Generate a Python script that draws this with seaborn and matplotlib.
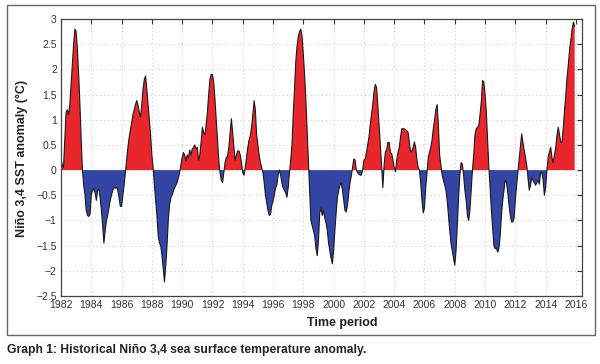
import numpy as np
import pandas as pd
import seaborn as sns
import matplotlib.pyplot as plt
from matplotlib.patches import Rectangle

# --- Datos: anomalía mensual Niño 3,4 (°C), ene 1982 - dic 2015 ---
start_year = 1982
anomaly = [
    0.22, 0.1, 0.05, 0.6, 1.15, 1.2, 1.1, 1.3, 1.7, 2.1, 2.5, 2.8,            # 1982
    2.75, 2.4, 1.9, 1.3, 0.6, 0.0, -0.3, -0.5, -0.8, -0.9, -0.92, -0.88,      # 1983
    -0.5, -0.4, -0.37, -0.45, -0.6, -0.4, -0.38, -0.55, -0.8, -1.1, -1.45, -1.2,  # 1984
    -1.0, -0.9, -0.75, -0.6, -0.5, -0.4, -0.34, -0.36, -0.34, -0.4, -0.55, -0.72,  # 1985
    -0.72, -0.5, -0.3, -0.05, 0.2, 0.45, 0.65, 0.8, 0.95, 1.1, 1.2, 1.3,      # 1986
    1.38, 1.3, 1.15, 1.05, 1.3, 1.6, 1.8, 1.87, 1.6, 1.3, 1.0, 0.7,           # 1987
    0.3, 0.05, -0.3, -0.6, -0.9, -1.3, -1.45, -1.5, -1.7, -1.95, -2.22, -1.9,  # 1988
    -1.5, -1.0, -0.7, -0.55, -0.5, -0.42, -0.35, -0.3, -0.25, -0.15, -0.05, 0.1,  # 1989
    0.25, 0.35, 0.3, 0.18, 0.3, 0.25, 0.4, 0.3, 0.42, 0.45, 0.5, 0.42,        # 1990
    0.45, 0.2, 0.3, 0.55, 0.85, 0.75, 0.7, 0.9, 1.15, 1.5, 1.8, 1.9,          # 1991
    1.9, 1.75, 1.4, 1.0, 0.6, 0.2, -0.05, -0.2, -0.25, -0.05, 0.15, 0.25,     # 1992
    0.28, 0.45, 0.75, 1.02, 0.75, 0.45, 0.2, 0.3, 0.38, 0.38, 0.3, 0.15,      # 1993
    -0.05, -0.1, 0.05, 0.25, 0.45, 0.6, 0.68, 0.85, 1.1, 1.38, 1.2, 0.7,      # 1994
    0.5, 0.3, 0.15, 0.05, -0.05, -0.25, -0.5, -0.65, -0.8, -0.9, -0.88, -0.7,  # 1995
    -0.62, -0.5, -0.35, -0.3, -0.1, 0.0, -0.1, -0.25, -0.35, -0.4, -0.45, -0.54,  # 1996
    -0.35, -0.05, 0.2, 0.5, 1.1, 1.6, 2.15, 2.45, 2.65, 2.75, 2.8, 2.65,      # 1997
    2.3, 1.9, 1.4, 0.8, 0.2, -0.4, -1.0, -1.1, -1.2, -1.3, -1.55, -1.7,       # 1998
    -1.4, -0.85, -0.75, -0.9, -0.8, -0.95, -1.05, -1.2, -1.45, -1.6, -1.75, -1.86,  # 1999
    -1.6, -1.2, -0.85, -0.55, -0.4, -0.3, -0.25, -0.4, -0.6, -0.8, -0.83, -0.7,  # 2000
    -0.45, -0.25, -0.12, 0.05, 0.22, 0.2, 0.0, -0.05, -0.08, -0.1, -0.1, 0.0,  # 2001
    0.2, 0.22, 0.35, 0.5, 0.65, 0.9, 1.1, 1.3, 1.55, 1.7, 1.65, 1.3,          # 2002
    0.9, 0.5, 0.1, -0.35, 0.1, 0.36, 0.4, 0.55, 0.55, 0.35, 0.33, 0.2,        # 2003
    0.05, -0.03, 0.2, 0.35, 0.45, 0.65, 0.82, 0.82, 0.82, 0.8, 0.78, 0.75,    # 2004
    0.55, 0.36, 0.38, 0.45, 0.56, 0.45, 0.2, 0.05, 0.0, -0.25, -0.6, -0.85,   # 2005
    -0.75, -0.35, -0.05, 0.25, 0.36, 0.45, 0.6, 0.82, 1.0, 1.2, 1.3, 0.9,     # 2006
    0.3, 0.1, -0.1, -0.2, -0.3, -0.4, -0.6, -0.9, -1.2, -1.45, -1.6, -1.75,   # 2007
    -1.89, -1.6, -1.1, -0.55, -0.1, 0.15, 0.12, -0.1, -0.4, -0.6, -0.9, -1.0,  # 2008
    -0.8, -0.4, 0.0, 0.3, 0.7, 0.82, 0.85, 0.88, 1.1, 1.35, 1.78, 1.75,       # 2009
    1.5, 1.15, 0.6, 0.05, -0.35, -0.8, -1.15, -1.5, -1.56, -1.55, -1.63, -1.55,  # 2010
    -1.3, -0.9, -0.6, -0.4, -0.2, -0.25, -0.45, -0.7, -0.9, -1.03, -1.03, -0.95,  # 2011
    -0.6, -0.3, -0.05, 0.2, 0.45, 0.72, 0.55, 0.4, 0.25, 0.1, -0.15, -0.4,    # 2012
    -0.3, -0.15, -0.2, -0.25, -0.3, -0.25, -0.2, -0.28, -0.05, -0.05, -0.2, -0.5,  # 2013
    -0.35, 0.0, 0.25, 0.36, 0.45, 0.25, 0.15, 0.3, 0.45, 0.7, 0.85, 0.7,      # 2014
    0.55, 0.56, 0.85, 1.2, 1.5, 1.85, 2.1, 2.4, 2.6, 2.8, 2.94, 2.85,         # 2015
]

x_ticks = list(range(1982, 2017, 2))
y_ticks = [3, 2.5, 2, 1.5, 1, 0.5, 0, -0.5, -1, -1.5, -2, -2.5]
y_tick_labels = ['3', '2.5', '2', '1.5', '1', '0.5', '0',
                 '\u22120.5', '\u22121', '\u22121.5', '\u22122', '\u22122.5']

df = pd.DataFrame({'anomaly': anomaly})
df['year'] = start_year + np.arange(len(df)) / 12

# --- Estilo ---
sns.set_style('white')
plt.rcParams['font.family'] = ['Liberation Sans Narrow', 'Liberation Sans', 'DejaVu Sans']

fig = plt.figure(figsize=(6, 3.64), dpi=100)
W, H = 600, 364

# marco exterior
fig.patches.append(Rectangle((7 / W, 1 - 335 / H), 588 / W, 330 / H,
                             transform=fig.transFigure, fill=False,
                             edgecolor='#666666', linewidth=1.0))

ax = fig.add_axes([61 / W, 1 - 296 / H, 521 / W, 277 / H])

red = '#e8262c'
blue = '#3346a6'
ax.fill_between(df['year'], df['anomaly'], 0, where=df['anomaly'] >= 0,
                interpolate=True, color=red, linewidth=0)
ax.fill_between(df['year'], df['anomaly'], 0, where=df['anomaly'] <= 0,
                interpolate=True, color=blue, linewidth=0)
sns.lineplot(data=df, x='year', y='anomaly', ax=ax, color='#1a1a1a', linewidth=0.8)

ax.set_xlim(1982, 2016.4)
ax.set_ylim(-2.5, 3)
ax.set_xticks(x_ticks)
ax.set_xticklabels([str(v) for v in x_ticks])
ax.set_yticks(y_ticks)
ax.set_yticklabels(y_tick_labels)
ax.set_xlabel('')
ax.set_ylabel('')
ax.tick_params(direction='in', length=3.5, width=0.8, top=True, right=True,
               labelsize=7.5, colors='#333333', pad=3)
ax.grid(True, linestyle=(0, (1, 3)), color='#c8c8c8', linewidth=0.7)
for s in ax.spines.values():
    s.set_color('#444444')
    s.set_linewidth(0.9)

# --- Textos ---
fig.text(22 / W, 1 - 158 / H, 'Niño 3,4 SST anomaly (°C)', rotation=90,
         ha='center', va='center', fontsize=9, fontweight='bold', color='#222222')
fig.text(342 / W, 1 - 323 / H, 'Time period', ha='center', va='center',
         fontsize=9, fontweight='bold', color='#222222')
fig.text(7 / W, 1 - 350 / H, 'Graph 1: Historical Niño 3,4 sea surface temperature anomaly.',
         ha='left', va='center', fontsize=8.7, fontweight='bold', color='#222222')

fig.savefig('out.png', dpi=100)
plt.close(fig)
